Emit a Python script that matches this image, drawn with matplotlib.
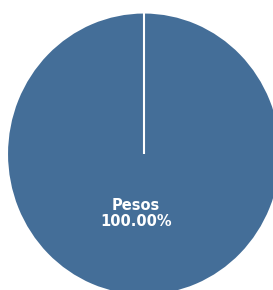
import matplotlib
matplotlib.use('Agg')
import numpy as np
import matplotlib.pyplot as plt

labels = ['Pesos']
values = [100.0]
color = '#446e98'

W, H = 273, 290
cx, cy = 144, 154      # pie centre in pixels (from top-left)
rx, ry = 137, 141.5    # radius in pixels
start = 90

fig = plt.figure(figsize=(W / 100, H / 100), dpi=100)
ax = fig.add_axes([0, 0, 1, 1])
ax.pie(values, colors=[color], startangle=start, counterclock=False,
       wedgeprops=dict(edgecolor='white', linewidth=1.5))
# a single full slice has no radial edge in matplotlib, draw it
a = np.deg2rad(start)
ax.plot([0, np.cos(a)], [0, np.sin(a)], color='white', lw=1.5,
        solid_capstyle='butt')
ax.set_aspect('auto')
ax.set_xlim(-cx / rx, (W - cx) / rx)
ax.set_ylim(-(H - cy) / ry, cy / ry)
ax.axis('off')

total = sum(values)
ax.text(-0.058, -0.42, '{}\n{:.2f}%'.format(labels[0], values[0] / total * 100),
        ha='center', va='center', color='white', fontsize=10.5,
        fontweight='bold', linespacing=1.1)

fig.savefig('out.png', dpi=100)
